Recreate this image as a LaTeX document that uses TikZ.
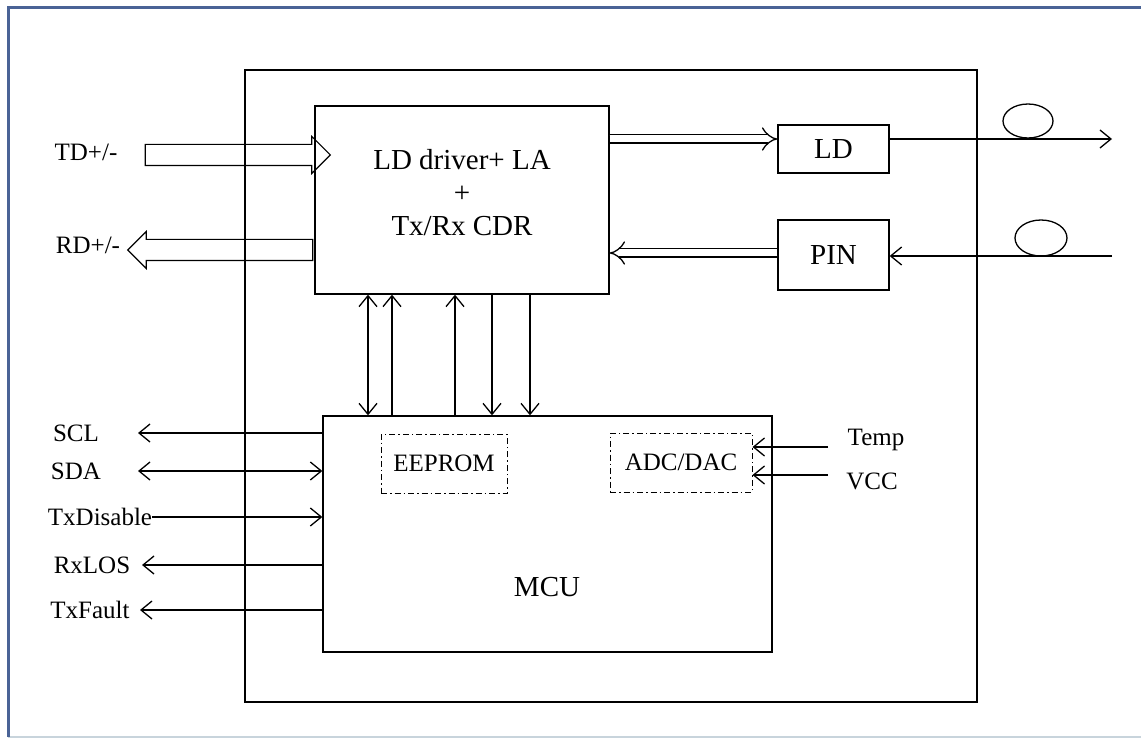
\documentclass[tikz,border=0pt]{standalone}
\usepackage{fontspec}
\setmainfont{Liberation Serif}
\usetikzlibrary{arrows.meta,shapes.arrows}
\definecolor{frameblue}{HTML}{4A6396}
\definecolor{framelight}{HTML}{C8D4DC}
\tikzset{
  x=1pt, y=-1pt,
  >={Straight Barb[length=11pt,width=18pt]},
  box/.style={draw, line width=1.3pt, minimum width=#1},
  dotbox/.style={draw, line width=1pt, dash pattern=on 6pt off 3pt on 1.5pt off 3pt},
  dbl/.style={double, double distance=7pt, line width=1.3pt, -{Implies}},
  fatarrow/.style={single arrow, draw, line width=1.1pt, inner sep=10pt,
    single arrow head extend=8pt, minimum height=#1},
  bigtext/.style={font=\fontsize{29}{33}\selectfont},
  smalltext/.style={font=\fontsize{25}{28}\selectfont},
}
\begin{document}
\begin{tikzpicture}[line width=1.3pt]
      \useasboundingbox (0,0) rectangle (1141,738);
      \draw[framelight, line width=1.5pt] (8,737) -- (1141,737);
      \draw[frameblue, line width=3pt] (8,737) -- (8,8) -- (1141,8);
      % module outline
      \draw (245,70) rectangle (977,702);
      % main blocks
      \node[box=294, minimum height=188] (chip) at (462,200) {};
      \node[bigtext, align=center] (chiptext) at ([yshift=7pt]chip.center) {LD driver+ LA\\+\\Tx/Rx CDR};
      \node[box=111, minimum height=48, bigtext] (ld) at (833.5,149) {LD};
      \node[box=111, minimum height=70, bigtext] (pin) at (833.5,255) {PIN};
      \node[box=449, minimum height=236] (mcu) at (547.5,534) {};
      \node[bigtext] (mcutext) at (547,587) {MCU};
      \node[dotbox, minimum width=126, minimum height=59, smalltext] (eeprom) at (444,463.5) {EEPROM};
      \node[dotbox, minimum width=142, minimum height=59, smalltext] (adc) at (681,462.5) {ADC/DAC};
      % high speed data
      \node[fatarrow=185] (tdarrow) at (232.5,155) {};
      \node[fatarrow=185, shape border rotate=180] (rdarrow) at (225.5,250) {};
      \node[smalltext] (td) at (86,152) {TD+/-};
      \node[smalltext] (rd) at (88,245) {RD+/-};
      \draw[dbl] (chip.east |- 0,139) -- (ld.west |- 0,139);
      \draw[dbl] (pin.west |- 0,253) -- (chip.east |- 0,253);
      % fibre side
      \coordinate (fibout) at (1112,139);
      \coordinate (fibin) at (1112,256);
      \draw[->] (ld.east |- fibout) -- (fibout);
      \draw[->] (fibin) -- (pin.east |- fibin);
      \draw (1028,121) ellipse [x radius=25, y radius=17];
      \draw (1041,238) ellipse [x radius=26, y radius=18];
      % chip <-> mcu
      \draw[<->] (368,0 |- chip.south) -- (368,0 |- mcu.north);
      \draw[->] (392,0 |- mcu.north) -- (392,0 |- chip.south);
      \draw[->] (455,0 |- mcu.north) -- (455,0 |- chip.south);
      \draw[->] (492,0 |- chip.south) -- (492,0 |- mcu.north);
      \draw[->] (530,0 |- chip.south) -- (530,0 |- mcu.north);
      % low speed signals
      \foreach \y/\txt/\lx/\ex/\tip in {433/SCL/76/138/<-, 471/SDA/76/138/<->,
          517/TxDisable/100/152/->, 565/RxLOS/92/142/<-, 610/TxFault/90/140/<-}{
        \node[smalltext] (sig\txt) at (\lx,\y) {\txt};
        \coordinate (end\txt) at (\ex,\y);
        \draw[\tip] (end\txt) -- (mcu.west |- end\txt);
      }
      % monitors
      \node[smalltext] (temp) at (876,440) {Temp};
      \node[smalltext] (vcc) at (872,481) {VCC};
      \coordinate (tempend) at (828,447);
      \coordinate (vccend) at (828,475);
      \draw[->] (tempend) -- (adc.east |- tempend);
      \draw[->] (vccend) -- (adc.east |- vccend);
    \end{tikzpicture}
\end{document}
